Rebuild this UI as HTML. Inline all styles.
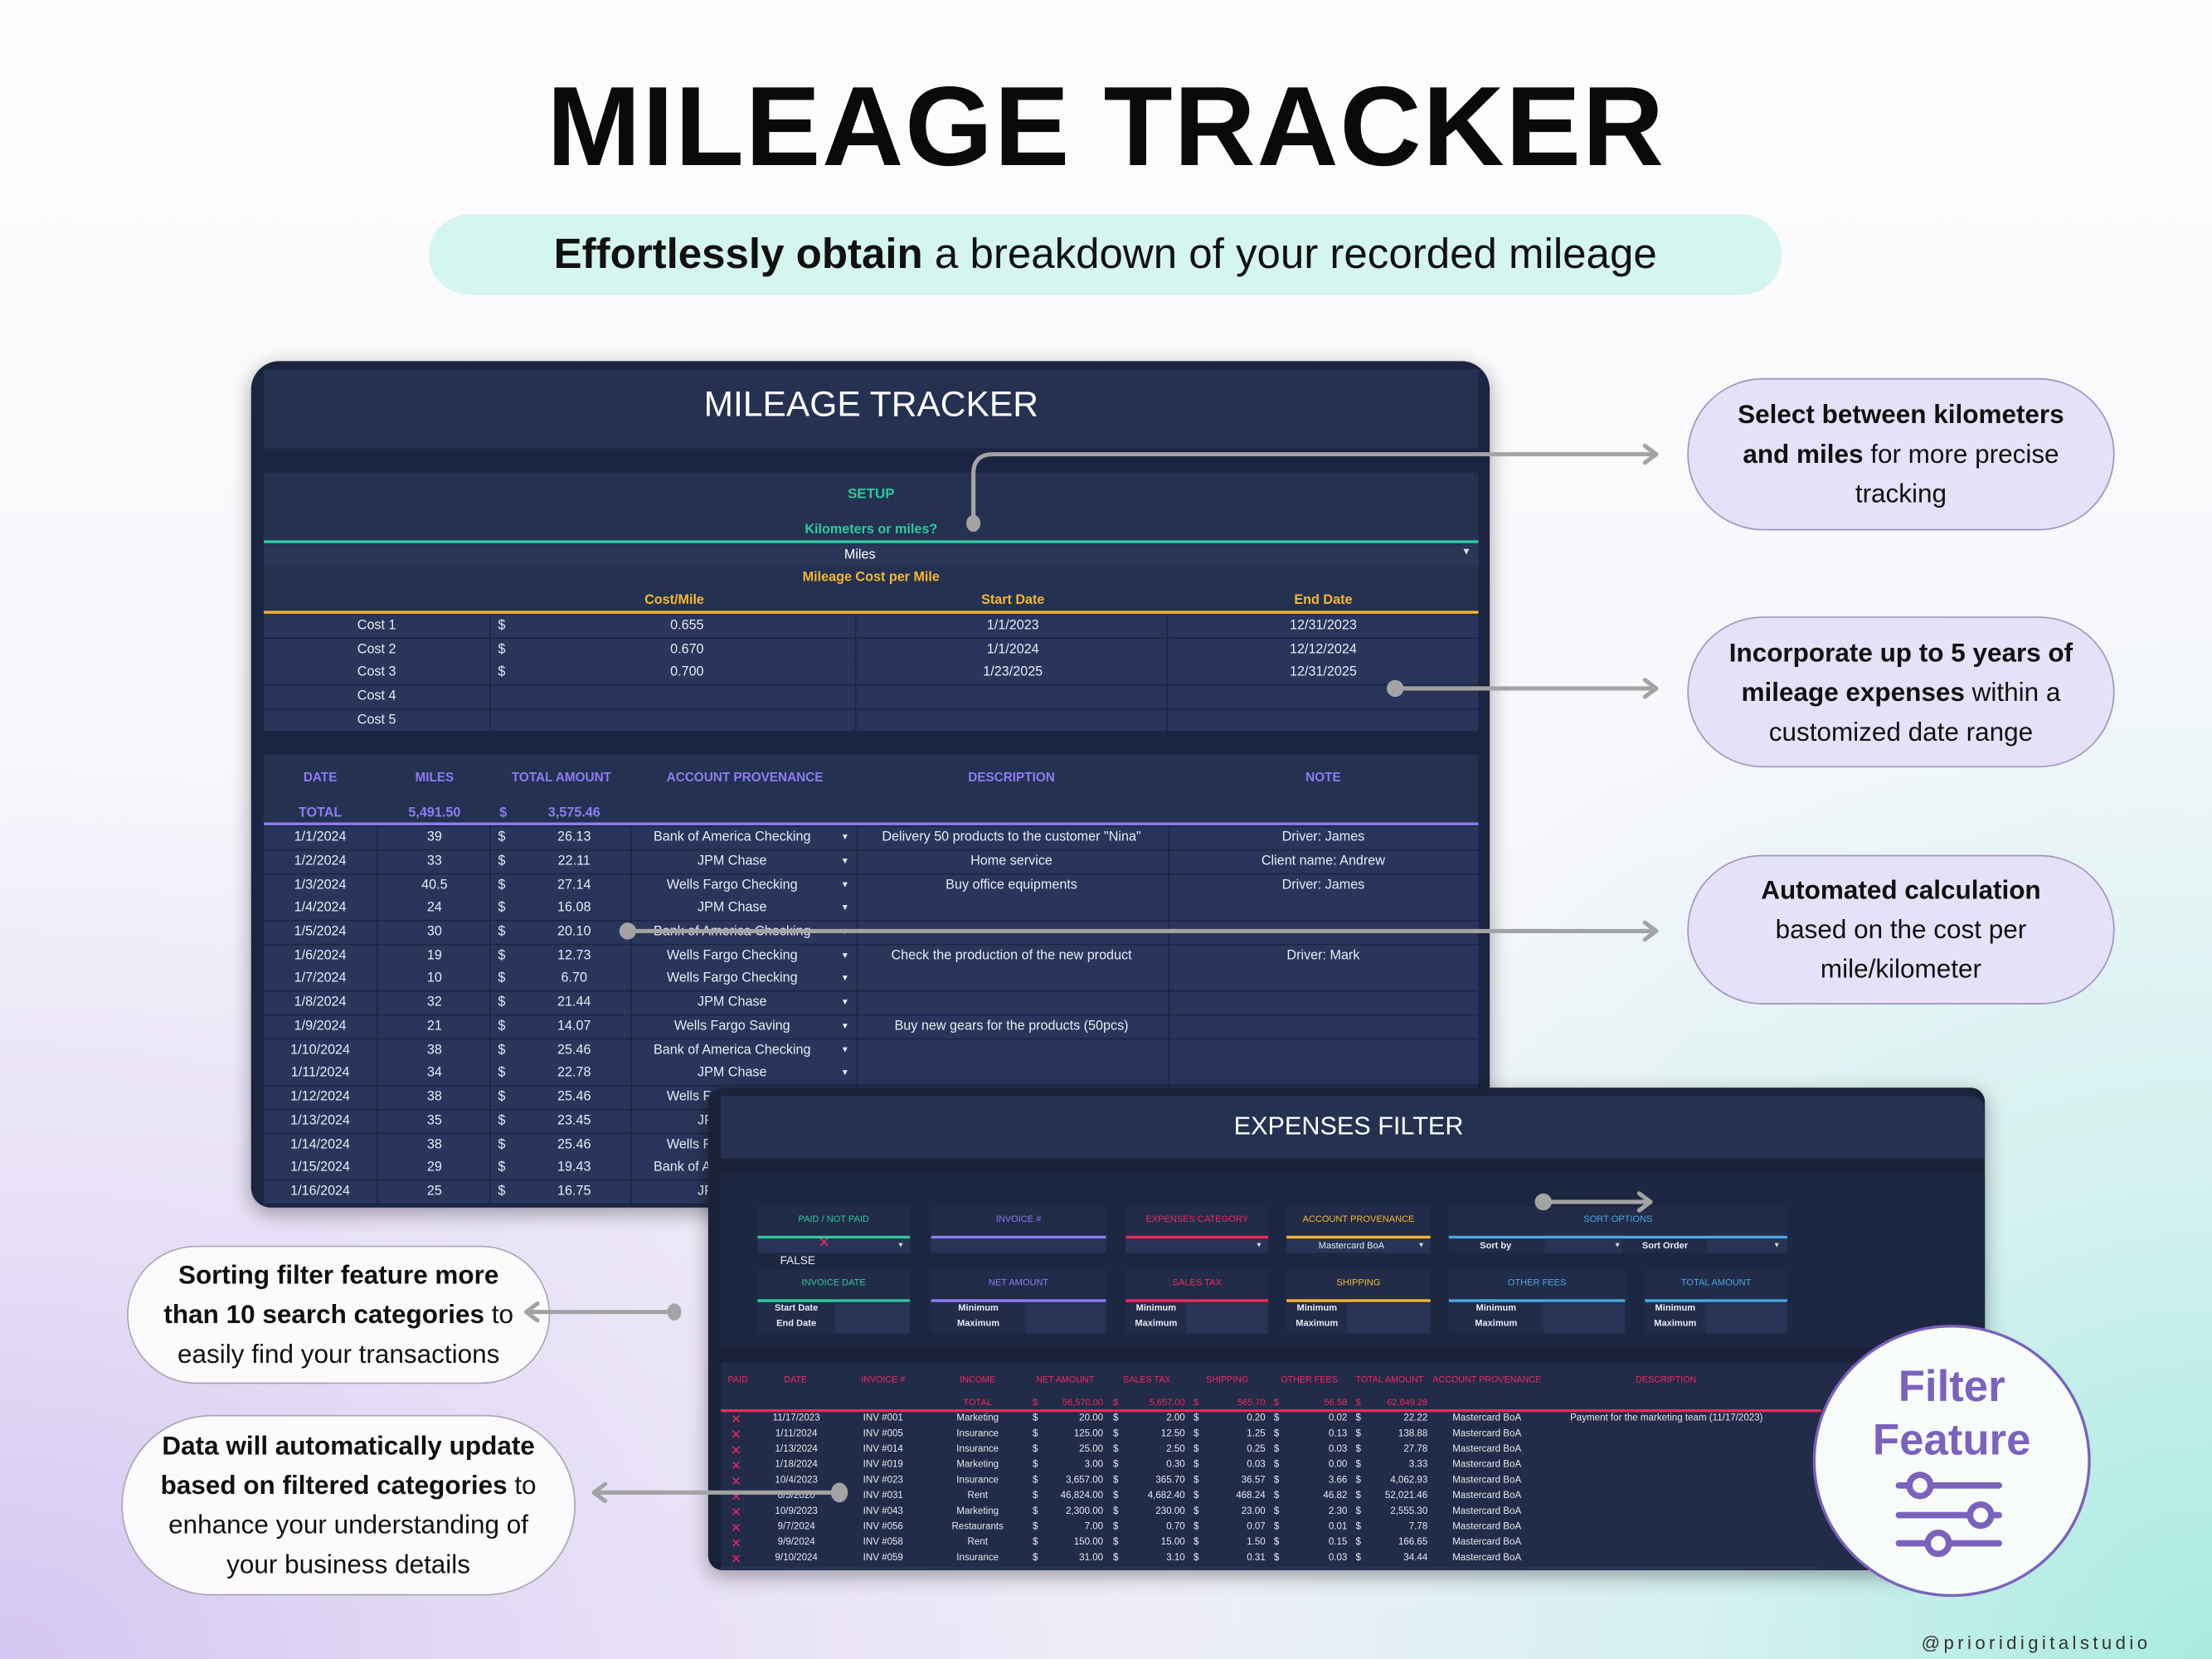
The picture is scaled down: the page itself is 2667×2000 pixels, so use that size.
<!DOCTYPE html>
<html><head><meta charset="utf-8"><style>
html,body{margin:0;padding:0;}
body{width:2667px;height:2000px;overflow:hidden;position:relative;
background:#f6f5fb;}
#bg{position:absolute;left:0;top:0;width:2667px;height:2000px;
background:
radial-gradient(ellipse 1500px 1100px at 0% 100%, #d4c6f2 0%, rgba(220,208,244,0.6) 45%, rgba(246,245,251,0) 100%),
radial-gradient(ellipse 1300px 1300px at 100% 100%, #a8ebdf 0%, rgba(190,240,232,0.6) 45%, rgba(246,245,251,0) 100%),
linear-gradient(#fdfdfe,#f1eff8);}
#s{position:absolute;left:0;top:0;width:1568px;height:1176px;transform:scale(1.70089,1.70068);transform-origin:0 0;font-family:"Liberation Sans",sans-serif;}
.a{position:absolute;}
.n{font-family:"Liberation Sans Narrow","Liberation Sans",sans-serif;}
.t{position:absolute;white-space:nowrap;}
.ctr{text-align:center;}
.rt{text-align:right;}
.mr{position:absolute;left:187px;width:861px;height:16px;background:#29355a;border-bottom:0.8px solid #1d2642;}
.mr span{position:absolute;top:0;line-height:16px;color:#e8ebf5;font-size:9.5px;white-space:nowrap;font-family:"Liberation Sans Narrow","Liberation Sans",sans-serif;}
.vl{position:absolute;width:1px;background:#1e2843;}
.er{position:absolute;left:511px;width:780px;height:10.5px;background:#222c48;border-bottom:0.7px solid #2d3856;}
.er span{position:absolute;top:0;line-height:10.5px;color:#e6e9f3;font-size:6.8px;white-space:nowrap;font-family:"Liberation Sans Narrow","Liberation Sans",sans-serif;}
.pill{position:absolute;border-radius:60px;display:flex;align-items:center;justify-content:center;text-align:center;color:#111;font-size:18.5px;line-height:28px;}
.fb{position:absolute;background:#222c49;}
.fb .h{position:absolute;left:0;right:0;top:6px;text-align:center;font-size:6.5px;font-family:"Liberation Sans Narrow","Liberation Sans",sans-serif;}
.fb .ln{position:absolute;left:0;right:0;top:21px;height:2px;}
.fb .lb{position:absolute;left:0;width:55px;text-align:center;font-size:6.5px;color:#e8ebf5;font-weight:bold;font-family:"Liberation Sans Narrow","Liberation Sans",sans-serif;}
.fb .in{position:absolute;top:23px;bottom:0;background:#283355;}
</style></head><body>
<div id="bg"></div>
<div id="s">
<div class="t ctr" style="left:0;width:1568px;top:45px;font-size:80px;font-weight:900;letter-spacing:1px;color:#0a0a0a;line-height:90px;">MILEAGE TRACKER</div>
<div class="a" style="left:304px;top:152px;width:959px;height:57px;border-radius:29px;background:#d5f5ef;"></div>
<div class="t ctr" style="left:304px;width:959px;top:163px;font-size:30px;line-height:36px;color:#111;"><b>Effortlessly obtain</b> a breakdown of your recorded mileage</div>

<div class="a" style="left:178px;top:256px;width:878px;height:600px;background:#1b2440;border-radius:20px 20px 14px 14px;box-shadow:0 4px 14px rgba(0,0,0,0.35);overflow:hidden;">
</div>
<div class="a" style="left:187px;top:262px;width:861px;height:56px;background:#243150;"></div>
<div class="t ctr n" style="left:187px;width:861px;top:270px;font-size:25px;line-height:34px;color:#fff;">MILEAGE TRACKER</div>
<div class="a" style="left:187px;top:335px;width:861px;height:183px;background:#243150;"></div>
<div class="t ctr n" style="left:187px;width:861px;top:345px;font-size:10px;font-weight:bold;color:#2fc99c;">SETUP</div>
<div class="t ctr n" style="left:187px;width:861px;top:370px;font-size:9.5px;font-weight:bold;color:#2fc99c;">Kilometers or miles?</div>
<div class="a" style="left:187px;top:383px;width:861px;height:2px;background:#2fc99c;"></div>
<div class="a" style="left:187px;top:386px;width:861px;height:15px;background:#2a3658;"></div>
<div class="t ctr n" style="left:187px;width:845px;top:388px;font-size:9.5px;color:#fff;">Miles</div>
<div class="t" style="left:1036px;top:388px;font-size:7px;color:#ddd;">▼</div>
<div class="t ctr n" style="left:187px;width:861px;top:404px;font-size:9.5px;font-weight:bold;color:#f5b731;">Mileage Cost per Mile</div>
<div class="t ctr n" style="left:428px;width:100px;top:420px;font-size:9.5px;font-weight:bold;color:#f5b731;">Cost/Mile</div>
<div class="t ctr n" style="left:668px;width:100px;top:420px;font-size:9.5px;font-weight:bold;color:#f5b731;">Start Date</div>
<div class="t ctr n" style="left:888px;width:100px;top:420px;font-size:9.5px;font-weight:bold;color:#f5b731;">End Date</div>
<div class="a" style="left:187px;top:433px;width:861px;height:2px;background:#f5b731;"></div>
<div class="mr" style="top:436px"><span style="left:40px;width:80px;text-align:center;">Cost 1</span><span style="left:166px">$</span><span style="left:260px;width:80px;text-align:center;">0.655</span><span style="left:481px;width:100px;text-align:center;">1/1/2023</span><span style="left:701px;width:100px;text-align:center;">12/31/2023</span></div>
<div class="mr" style="top:453px"><span style="left:40px;width:80px;text-align:center;">Cost 2</span><span style="left:166px">$</span><span style="left:260px;width:80px;text-align:center;">0.670</span><span style="left:481px;width:100px;text-align:center;">1/1/2024</span><span style="left:701px;width:100px;text-align:center;">12/12/2024</span></div>
<div class="mr" style="top:469px"><span style="left:40px;width:80px;text-align:center;">Cost 3</span><span style="left:166px">$</span><span style="left:260px;width:80px;text-align:center;">0.700</span><span style="left:481px;width:100px;text-align:center;">1/23/2025</span><span style="left:701px;width:100px;text-align:center;">12/31/2025</span></div>
<div class="mr" style="top:486px"><span style="left:40px;width:80px;text-align:center;">Cost 4</span></div>
<div class="mr" style="top:503px;height:15px;"><span style="left:40px;width:80px;text-align:center;">Cost 5</span></div>
<div class="vl" style="left:347px;top:436px;height:82px;"></div>
<div class="vl" style="left:606px;top:436px;height:82px;"></div>
<div class="vl" style="left:827px;top:436px;height:82px;"></div>

<div class="a" style="left:187px;top:535px;width:861px;height:50px;background:#243150;"></div>
<div class="t n" style="left:187px;top:546px;width:861px;height:14px;font-size:9px;font-weight:bold;color:#8d7cf2;">
<span class="t ctr" style="left:0;width:80px;">DATE</span><span class="t ctr" style="left:81px;width:80px;">MILES</span><span class="t ctr" style="left:161px;width:100px;">TOTAL AMOUNT</span><span class="t ctr" style="left:261px;width:160px;">ACCOUNT PROVENANCE</span><span class="t ctr" style="left:420px;width:220px;">DESCRIPTION</span><span class="t ctr" style="left:641px;width:220px;">NOTE</span></div>
<div class="t n" style="left:187px;top:571px;width:861px;font-size:9.5px;font-weight:bold;color:#8d7cf2;">
<span class="t ctr" style="left:0;width:80px;">TOTAL</span><span class="t ctr" style="left:81px;width:80px;">5,491.50</span><span class="t" style="left:167px;">$</span><span class="t ctr" style="left:190px;width:60px;">3,575.46</span></div>
<div class="a" style="left:187px;top:583px;width:861px;height:2px;background:#8d7cf2;"></div>

<div class="mr" style="top:586px"><span style="left:0;width:80px;text-align:center;">1/1/2024</span><span style="left:81px;width:80px;text-align:center;">39</span><span style="left:166px">$</span><span style="left:190px;width:60px;text-align:center;">26.13</span><span style="left:253px;width:158px;text-align:center;">Bank of America Checking</span><span style="left:409px;font-size:6px;">▼</span><span style="left:420px;width:220px;text-align:center;">Delivery 50 products to the customer "Nina"</span><span style="left:641px;width:220px;text-align:center;">Driver: James</span></div>
<div class="mr" style="top:603px"><span style="left:0;width:80px;text-align:center;">1/2/2024</span><span style="left:81px;width:80px;text-align:center;">33</span><span style="left:166px">$</span><span style="left:190px;width:60px;text-align:center;">22.11</span><span style="left:253px;width:158px;text-align:center;">JPM Chase</span><span style="left:409px;font-size:6px;">▼</span><span style="left:420px;width:220px;text-align:center;">Home service</span><span style="left:641px;width:220px;text-align:center;">Client name: Andrew</span></div>
<div class="mr" style="top:620px"><span style="left:0;width:80px;text-align:center;">1/3/2024</span><span style="left:81px;width:80px;text-align:center;">40.5</span><span style="left:166px">$</span><span style="left:190px;width:60px;text-align:center;">27.14</span><span style="left:253px;width:158px;text-align:center;">Wells Fargo Checking</span><span style="left:409px;font-size:6px;">▼</span><span style="left:420px;width:220px;text-align:center;">Buy office equipments</span><span style="left:641px;width:220px;text-align:center;">Driver: James</span></div>
<div class="mr" style="top:636px"><span style="left:0;width:80px;text-align:center;">1/4/2024</span><span style="left:81px;width:80px;text-align:center;">24</span><span style="left:166px">$</span><span style="left:190px;width:60px;text-align:center;">16.08</span><span style="left:253px;width:158px;text-align:center;">JPM Chase</span><span style="left:409px;font-size:6px;">▼</span></div>
<div class="mr" style="top:653px"><span style="left:0;width:80px;text-align:center;">1/5/2024</span><span style="left:81px;width:80px;text-align:center;">30</span><span style="left:166px">$</span><span style="left:190px;width:60px;text-align:center;">20.10</span><span style="left:253px;width:158px;text-align:center;">Bank of America Checking</span><span style="left:409px;font-size:6px;">▼</span></div>
<div class="mr" style="top:670px"><span style="left:0;width:80px;text-align:center;">1/6/2024</span><span style="left:81px;width:80px;text-align:center;">19</span><span style="left:166px">$</span><span style="left:190px;width:60px;text-align:center;">12.73</span><span style="left:253px;width:158px;text-align:center;">Wells Fargo Checking</span><span style="left:409px;font-size:6px;">▼</span><span style="left:420px;width:220px;text-align:center;">Check the production of the new product</span><span style="left:641px;width:220px;text-align:center;">Driver: Mark</span></div>
<div class="mr" style="top:686px"><span style="left:0;width:80px;text-align:center;">1/7/2024</span><span style="left:81px;width:80px;text-align:center;">10</span><span style="left:166px">$</span><span style="left:190px;width:60px;text-align:center;">6.70</span><span style="left:253px;width:158px;text-align:center;">Wells Fargo Checking</span><span style="left:409px;font-size:6px;">▼</span></div>
<div class="mr" style="top:703px"><span style="left:0;width:80px;text-align:center;">1/8/2024</span><span style="left:81px;width:80px;text-align:center;">32</span><span style="left:166px">$</span><span style="left:190px;width:60px;text-align:center;">21.44</span><span style="left:253px;width:158px;text-align:center;">JPM Chase</span><span style="left:409px;font-size:6px;">▼</span></div>
<div class="mr" style="top:720px"><span style="left:0;width:80px;text-align:center;">1/9/2024</span><span style="left:81px;width:80px;text-align:center;">21</span><span style="left:166px">$</span><span style="left:190px;width:60px;text-align:center;">14.07</span><span style="left:253px;width:158px;text-align:center;">Wells Fargo Saving</span><span style="left:409px;font-size:6px;">▼</span><span style="left:420px;width:220px;text-align:center;">Buy new gears for the products (50pcs)</span></div>
<div class="mr" style="top:737px"><span style="left:0;width:80px;text-align:center;">1/10/2024</span><span style="left:81px;width:80px;text-align:center;">38</span><span style="left:166px">$</span><span style="left:190px;width:60px;text-align:center;">25.46</span><span style="left:253px;width:158px;text-align:center;">Bank of America Checking</span><span style="left:409px;font-size:6px;">▼</span></div>
<div class="mr" style="top:753px"><span style="left:0;width:80px;text-align:center;">1/11/2024</span><span style="left:81px;width:80px;text-align:center;">34</span><span style="left:166px">$</span><span style="left:190px;width:60px;text-align:center;">22.78</span><span style="left:253px;width:158px;text-align:center;">JPM Chase</span><span style="left:409px;font-size:6px;">▼</span></div>
<div class="mr" style="top:770px"><span style="left:0;width:80px;text-align:center;">1/12/2024</span><span style="left:81px;width:80px;text-align:center;">38</span><span style="left:166px">$</span><span style="left:190px;width:60px;text-align:center;">25.46</span><span style="left:253px;width:158px;text-align:center;">Wells Fargo Checking</span></div>
<div class="mr" style="top:787px"><span style="left:0;width:80px;text-align:center;">1/13/2024</span><span style="left:81px;width:80px;text-align:center;">35</span><span style="left:166px">$</span><span style="left:190px;width:60px;text-align:center;">23.45</span><span style="left:253px;width:158px;text-align:center;">JPM Chase</span></div>
<div class="mr" style="top:804px"><span style="left:0;width:80px;text-align:center;">1/14/2024</span><span style="left:81px;width:80px;text-align:center;">38</span><span style="left:166px">$</span><span style="left:190px;width:60px;text-align:center;">25.46</span><span style="left:253px;width:158px;text-align:center;">Wells Fargo Checking</span></div>
<div class="mr" style="top:820px"><span style="left:0;width:80px;text-align:center;">1/15/2024</span><span style="left:81px;width:80px;text-align:center;">29</span><span style="left:166px">$</span><span style="left:190px;width:60px;text-align:center;">19.43</span><span style="left:253px;width:158px;text-align:center;">Bank of America Checking</span></div>
<div class="mr" style="top:837px;height:16px;"><span style="left:0;width:80px;text-align:center;">1/16/2024</span><span style="left:81px;width:80px;text-align:center;">25</span><span style="left:166px">$</span><span style="left:190px;width:60px;text-align:center;">16.75</span><span style="left:253px;width:158px;text-align:center;">JPM Chase</span></div>
<div class="vl" style="left:267px;top:586px;height:268px;"></div>
<div class="vl" style="left:347px;top:586px;height:268px;"></div>
<div class="vl" style="left:447px;top:586px;height:268px;"></div>
<div class="vl" style="left:607px;top:586px;height:268px;"></div>
<div class="vl" style="left:828px;top:586px;height:268px;"></div>

<div class="a" style="left:502px;top:771px;width:905px;height:342px;background:#1a2239;border-radius:10px;box-shadow:0 4px 14px rgba(0,0,0,0.35);"></div>
<div class="a" style="left:511px;top:777px;width:896px;height:44px;background:#243150;border-radius:0 10px 0 0;"></div>
<div class="t ctr n" style="left:511px;width:890px;top:786px;font-size:18px;line-height:24px;color:#fff;">EXPENSES FILTER</div>
<div class="a" style="left:511px;top:832px;width:896px;height:123px;background:#1e2741;"></div>

<div class="fb" style="left:537px;top:855px;width:108px;height:33px;"><div class="h" style="color:#2fc99c">PAID / NOT PAID</div><div class="ln" style="background:#2fc99c"></div><div class="in" style="left:0;right:0;"></div><div class="t" style="left:43px;top:21px;font-size:10px;color:#ee2a5c;">✕</div><div class="t" style="left:99px;top:25px;font-size:5px;color:#ddd;">▼</div></div>
<div class="t n" style="left:553px;top:889px;font-size:8px;color:#e8ebf5;">FALSE</div>
<div class="fb" style="left:660px;top:855px;width:124px;height:33px;"><div class="h" style="color:#8d7cf2">INVOICE #</div><div class="ln" style="background:#8d7cf2"></div><div class="in" style="left:0;right:0;"></div></div>
<div class="fb" style="left:798px;top:855px;width:101px;height:33px;"><div class="h" style="color:#ee2a5c">EXPENSES CATEGORY</div><div class="ln" style="background:#ee2a5c"></div><div class="in" style="left:0;right:0;"></div><div class="t" style="left:92px;top:25px;font-size:5px;color:#ddd;">▼</div></div>
<div class="fb" style="left:912px;top:855px;width:102px;height:33px;"><div class="h" style="color:#f5b731">ACCOUNT PROVENANCE</div><div class="ln" style="background:#f5b731"></div><div class="in" style="left:0;right:0;"></div><div class="t n" style="left:0;width:92px;text-align:center;top:25px;font-size:6.5px;color:#e8ebf5;">Mastercard BoA</div><div class="t" style="left:93px;top:25px;font-size:5px;color:#ddd;">▼</div></div>
<div class="fb" style="left:1027px;top:855px;width:240px;height:33px;"><div class="h" style="color:#4aa8e0">SORT OPTIONS</div><div class="ln" style="background:#4aa8e0"></div><div class="in" style="left:0;right:0;background:#222c49"></div><div class="in" style="left:68px;width:55px;"></div><div class="in" style="left:183px;width:57px;"></div><div class="t n" style="left:22px;top:25px;font-size:6.5px;color:#e8ebf5;font-weight:bold;">Sort by</div><div class="t" style="left:117px;top:25px;font-size:5px;color:#ddd;">▼</div><div class="t n" style="left:137px;top:25px;font-size:6.5px;color:#e8ebf5;font-weight:bold;">Sort Order</div><div class="t" style="left:230px;top:25px;font-size:5px;color:#ddd;">▼</div></div>

<div class="fb" style="left:537px;top:900px;width:108px;height:45px;"><div class="h" style="color:#2fc99c">INVOICE DATE</div><div class="ln" style="background:#2fc99c"></div><div class="in" style="left:55px;right:0;"></div><div class="lb" style="top:24px">Start Date</div><div class="lb" style="top:35px">End Date</div></div>
<div class="fb" style="left:660px;top:900px;width:124px;height:45px;"><div class="h" style="color:#8d7cf2">NET AMOUNT</div><div class="ln" style="background:#8d7cf2"></div><div class="in" style="left:67px;right:0;"></div><div class="lb" style="top:24px;width:67px">Minimum</div><div class="lb" style="top:35px;width:67px">Maximum</div></div>
<div class="fb" style="left:798px;top:900px;width:101px;height:45px;"><div class="h" style="color:#ee2a5c">SALES TAX</div><div class="ln" style="background:#ee2a5c"></div><div class="in" style="left:43px;right:0;"></div><div class="lb" style="top:24px;width:43px">Minimum</div><div class="lb" style="top:35px;width:43px">Maximum</div></div>
<div class="fb" style="left:912px;top:900px;width:102px;height:45px;"><div class="h" style="color:#f5b731">SHIPPING</div><div class="ln" style="background:#f5b731"></div><div class="in" style="left:43px;right:0;"></div><div class="lb" style="top:24px;width:43px">Minimum</div><div class="lb" style="top:35px;width:43px">Maximum</div></div>
<div class="fb" style="left:1027px;top:900px;width:125px;height:45px;"><div class="h" style="color:#4aa8e0">OTHER FEES</div><div class="ln" style="background:#4aa8e0"></div><div class="in" style="left:67px;right:0;"></div><div class="lb" style="top:24px;width:67px">Minimum</div><div class="lb" style="top:35px;width:67px">Maximum</div></div>
<div class="fb" style="left:1166px;top:900px;width:101px;height:45px;"><div class="h" style="color:#4aa8e0">TOTAL AMOUNT</div><div class="ln" style="background:#4aa8e0"></div><div class="in" style="left:43px;right:0;"></div><div class="lb" style="top:24px;width:43px">Minimum</div><div class="lb" style="top:35px;width:43px">Maximum</div></div>

<div class="a" style="left:511px;top:966px;width:896px;height:147px;background:#222c48;border-radius:0 0 10px 0;"></div>
<div class="t n" style="left:511px;top:975px;width:780px;height:10px;font-size:6.3px;color:#ee2a5c;">
<span class="t ctr" style="left:0;width:24px;">PAID</span><span class="t ctr" style="left:28px;width:50px;">DATE</span><span class="t ctr" style="left:90px;width:50px;">INVOICE #</span><span class="t ctr" style="left:157px;width:50px;">INCOME</span><span class="t ctr" style="left:214px;width:60px;">NET AMOUNT</span><span class="t ctr" style="left:272px;width:60px;">SALES TAX</span><span class="t ctr" style="left:329px;width:60px;">SHIPPING</span><span class="t ctr" style="left:387px;width:60px;">OTHER FEES</span><span class="t ctr" style="left:444px;width:60px;">TOTAL AMOUNT</span><span class="t ctr" style="left:498px;width:90px;">ACCOUNT PROVENANCE</span><span class="t ctr" style="left:620px;width:100px;">DESCRIPTION</span></div>
<div class="t n" style="left:511px;top:991px;width:780px;font-size:6.5px;color:#ee2a5c;">
<span class="t ctr" style="left:157px;width:50px;">TOTAL</span><span class="t" style="left:221px">$</span><span class="t rt" style="left:225px;width:46px;">56,570.00</span><span class="t" style="left:278px">$</span><span class="t rt" style="left:283px;width:46px;">5,657.00</span><span class="t" style="left:335px">$</span><span class="t rt" style="left:340px;width:46px;">565.70</span><span class="t" style="left:392px">$</span><span class="t rt" style="left:398px;width:46px;">56.58</span><span class="t" style="left:450px">$</span><span class="t rt" style="left:455px;width:46px;">62,849.28</span></div>
<div class="a" style="left:511px;top:999px;width:780px;height:1.5px;background:#ee2a5c;"></div>

<div class="er" style="top:1001px"><span style="left:7px;color:#ee2a5c;font-size:9px;">✕</span><span style="left:26px;width:55px;text-align:center;">11/17/2023</span><span style="left:84px;width:62px;text-align:center;">INV #001</span><span style="left:152px;width:60px;text-align:center;">Marketing</span><span style="left:221px">$</span><span style="left:225px;width:46px;text-align:right;">20.00</span><span style="left:278px">$</span><span style="left:283px;width:46px;text-align:right;">2.00</span><span style="left:335px">$</span><span style="left:340px;width:46px;text-align:right;">0.20</span><span style="left:392px">$</span><span style="left:398px;width:46px;text-align:right;">0.02</span><span style="left:450px">$</span><span style="left:455px;width:46px;text-align:right;">22.22</span><span style="left:503px;width:80px;text-align:center;">Mastercard BoA</span><span style="left:602px">Payment for the marketing team (11/17/2023)</span></div>
<div class="er" style="top:1012px"><span style="left:7px;color:#ee2a5c;font-size:9px;">✕</span><span style="left:26px;width:55px;text-align:center;">1/11/2024</span><span style="left:84px;width:62px;text-align:center;">INV #005</span><span style="left:152px;width:60px;text-align:center;">Insurance</span><span style="left:221px">$</span><span style="left:225px;width:46px;text-align:right;">125.00</span><span style="left:278px">$</span><span style="left:283px;width:46px;text-align:right;">12.50</span><span style="left:335px">$</span><span style="left:340px;width:46px;text-align:right;">1.25</span><span style="left:392px">$</span><span style="left:398px;width:46px;text-align:right;">0.13</span><span style="left:450px">$</span><span style="left:455px;width:46px;text-align:right;">138.88</span><span style="left:503px;width:80px;text-align:center;">Mastercard BoA</span></div>
<div class="er" style="top:1023px"><span style="left:7px;color:#ee2a5c;font-size:9px;">✕</span><span style="left:26px;width:55px;text-align:center;">1/13/2024</span><span style="left:84px;width:62px;text-align:center;">INV #014</span><span style="left:152px;width:60px;text-align:center;">Insurance</span><span style="left:221px">$</span><span style="left:225px;width:46px;text-align:right;">25.00</span><span style="left:278px">$</span><span style="left:283px;width:46px;text-align:right;">2.50</span><span style="left:335px">$</span><span style="left:340px;width:46px;text-align:right;">0.25</span><span style="left:392px">$</span><span style="left:398px;width:46px;text-align:right;">0.03</span><span style="left:450px">$</span><span style="left:455px;width:46px;text-align:right;">27.78</span><span style="left:503px;width:80px;text-align:center;">Mastercard BoA</span></div>
<div class="er" style="top:1034px"><span style="left:7px;color:#ee2a5c;font-size:9px;">✕</span><span style="left:26px;width:55px;text-align:center;">1/18/2024</span><span style="left:84px;width:62px;text-align:center;">INV #019</span><span style="left:152px;width:60px;text-align:center;">Marketing</span><span style="left:221px">$</span><span style="left:225px;width:46px;text-align:right;">3.00</span><span style="left:278px">$</span><span style="left:283px;width:46px;text-align:right;">0.30</span><span style="left:335px">$</span><span style="left:340px;width:46px;text-align:right;">0.03</span><span style="left:392px">$</span><span style="left:398px;width:46px;text-align:right;">0.00</span><span style="left:450px">$</span><span style="left:455px;width:46px;text-align:right;">3.33</span><span style="left:503px;width:80px;text-align:center;">Mastercard BoA</span></div>
<div class="er" style="top:1045px"><span style="left:7px;color:#ee2a5c;font-size:9px;">✕</span><span style="left:26px;width:55px;text-align:center;">10/4/2023</span><span style="left:84px;width:62px;text-align:center;">INV #023</span><span style="left:152px;width:60px;text-align:center;">Insurance</span><span style="left:221px">$</span><span style="left:225px;width:46px;text-align:right;">3,657.00</span><span style="left:278px">$</span><span style="left:283px;width:46px;text-align:right;">365.70</span><span style="left:335px">$</span><span style="left:340px;width:46px;text-align:right;">36.57</span><span style="left:392px">$</span><span style="left:398px;width:46px;text-align:right;">3.66</span><span style="left:450px">$</span><span style="left:455px;width:46px;text-align:right;">4,062.93</span><span style="left:503px;width:80px;text-align:center;">Mastercard BoA</span></div>
<div class="er" style="top:1056px"><span style="left:7px;color:#ee2a5c;font-size:9px;">✕</span><span style="left:26px;width:55px;text-align:center;">6/5/2020</span><span style="left:84px;width:62px;text-align:center;">INV #031</span><span style="left:152px;width:60px;text-align:center;">Rent</span><span style="left:221px">$</span><span style="left:225px;width:46px;text-align:right;">46,824.00</span><span style="left:278px">$</span><span style="left:283px;width:46px;text-align:right;">4,682.40</span><span style="left:335px">$</span><span style="left:340px;width:46px;text-align:right;">468.24</span><span style="left:392px">$</span><span style="left:398px;width:46px;text-align:right;">46.82</span><span style="left:450px">$</span><span style="left:455px;width:46px;text-align:right;">52,021.46</span><span style="left:503px;width:80px;text-align:center;">Mastercard BoA</span></div>
<div class="er" style="top:1067px"><span style="left:7px;color:#ee2a5c;font-size:9px;">✕</span><span style="left:26px;width:55px;text-align:center;">10/9/2023</span><span style="left:84px;width:62px;text-align:center;">INV #043</span><span style="left:152px;width:60px;text-align:center;">Marketing</span><span style="left:221px">$</span><span style="left:225px;width:46px;text-align:right;">2,300.00</span><span style="left:278px">$</span><span style="left:283px;width:46px;text-align:right;">230.00</span><span style="left:335px">$</span><span style="left:340px;width:46px;text-align:right;">23.00</span><span style="left:392px">$</span><span style="left:398px;width:46px;text-align:right;">2.30</span><span style="left:450px">$</span><span style="left:455px;width:46px;text-align:right;">2,555.30</span><span style="left:503px;width:80px;text-align:center;">Mastercard BoA</span></div>
<div class="er" style="top:1078px"><span style="left:7px;color:#ee2a5c;font-size:9px;">✕</span><span style="left:26px;width:55px;text-align:center;">9/7/2024</span><span style="left:84px;width:62px;text-align:center;">INV #056</span><span style="left:152px;width:60px;text-align:center;">Restaurants</span><span style="left:221px">$</span><span style="left:225px;width:46px;text-align:right;">7.00</span><span style="left:278px">$</span><span style="left:283px;width:46px;text-align:right;">0.70</span><span style="left:335px">$</span><span style="left:340px;width:46px;text-align:right;">0.07</span><span style="left:392px">$</span><span style="left:398px;width:46px;text-align:right;">0.01</span><span style="left:450px">$</span><span style="left:455px;width:46px;text-align:right;">7.78</span><span style="left:503px;width:80px;text-align:center;">Mastercard BoA</span></div>
<div class="er" style="top:1089px"><span style="left:7px;color:#ee2a5c;font-size:9px;">✕</span><span style="left:26px;width:55px;text-align:center;">9/9/2024</span><span style="left:84px;width:62px;text-align:center;">INV #058</span><span style="left:152px;width:60px;text-align:center;">Rent</span><span style="left:221px">$</span><span style="left:225px;width:46px;text-align:right;">150.00</span><span style="left:278px">$</span><span style="left:283px;width:46px;text-align:right;">15.00</span><span style="left:335px">$</span><span style="left:340px;width:46px;text-align:right;">1.50</span><span style="left:392px">$</span><span style="left:398px;width:46px;text-align:right;">0.15</span><span style="left:450px">$</span><span style="left:455px;width:46px;text-align:right;">166.65</span><span style="left:503px;width:80px;text-align:center;">Mastercard BoA</span></div>
<div class="er" style="top:1100px"><span style="left:7px;color:#ee2a5c;font-size:9px;">✕</span><span style="left:26px;width:55px;text-align:center;">9/10/2024</span><span style="left:84px;width:62px;text-align:center;">INV #059</span><span style="left:152px;width:60px;text-align:center;">Insurance</span><span style="left:221px">$</span><span style="left:225px;width:46px;text-align:right;">31.00</span><span style="left:278px">$</span><span style="left:283px;width:46px;text-align:right;">3.10</span><span style="left:335px">$</span><span style="left:340px;width:46px;text-align:right;">0.31</span><span style="left:392px">$</span><span style="left:398px;width:46px;text-align:right;">0.03</span><span style="left:450px">$</span><span style="left:455px;width:46px;text-align:right;">34.44</span><span style="left:503px;width:80px;text-align:center;">Mastercard BoA</span></div>

<div class="pill" style="left:1196px;top:268px;width:301px;height:106px;background:#e6e0f8;border:1.5px solid #9f95c0;">
<div><b>Select between kilometers<br>and miles</b> for more precise<br>tracking</div></div>
<div class="pill" style="left:1196px;top:437px;width:301px;height:105px;background:#e6e0f8;border:1.5px solid #9f95c0;">
<div><b>Incorporate up to 5 years of<br>mileage expenses</b> within a<br>customized date range</div></div>
<div class="pill" style="left:1196px;top:606px;width:301px;height:104px;background:#e6e0f8;border:1.5px solid #9f95c0;">
<div><b>Automated calculation</b><br>based on the cost per<br>mile/kilometer</div></div>
<div class="pill" style="left:90px;top:883px;width:298px;height:96px;background:#fbfbfd;border:1.5px solid #a8a8b4;">
<div><b>Sorting filter feature more<br>than 10 search categories</b> to<br>easily find your transactions</div></div>
<div class="pill" style="left:86px;top:1003px;width:320px;height:126px;background:#fbfbfd;border:1.5px solid #a8a8b4;border-radius:64px;">
<div><b>Data will automatically update<br>based on filtered categories</b> to<br>enhance your understanding of<br>your business details</div></div>

<div class="a" style="left:1285px;top:939px;width:193px;height:189px;border-radius:50%;background:#f7fbfa;border:2px solid #7a62bd;"></div>
<div class="t ctr" style="left:1285px;width:197px;top:964px;font-size:31px;line-height:38px;font-weight:bold;color:#7a62bd;">Filter<br>Feature</div>

<svg class="a" style="left:0;top:0" width="1568" height="1176" viewBox="0 0 1568 1176">
<g stroke="#7a62bd" stroke-width="4.5" stroke-linecap="round" fill="#f7fbfa">
<line x1="1346" y1="1053" x2="1417" y2="1053"/><line x1="1346" y1="1074" x2="1417" y2="1074"/><line x1="1346" y1="1094" x2="1417" y2="1094"/>
<circle cx="1361" cy="1053" r="7.5"/><circle cx="1404" cy="1074" r="7.5"/><circle cx="1374" cy="1094" r="7.5"/>
</g>
<g stroke="#a3a3a3" stroke-width="3" fill="none" stroke-linecap="round" stroke-linejoin="round">
<path d="M690 371 V336 Q690 322 704 322 H1174"/><path d="M1166 316 L1174 322 L1166 328"/>
<path d="M989 488 H1174"/><path d="M1166 482 L1174 488 L1166 494"/>
<path d="M445 660 H1174"/><path d="M1166 654 L1174 660 L1166 666"/>
<path d="M1094 852 H1170"/><path d="M1162 846 L1170 852 L1162 858"/>
<path d="M478 930 H373"/><path d="M381 924 L373 930 L381 936"/>
<path d="M595 1058 H421"/><path d="M429 1052 L421 1058 L429 1064"/>
</g>
<g fill="#a3a3a3">
<ellipse cx="690" cy="371" rx="5" ry="6"/><ellipse cx="989" cy="488" rx="6" ry="6"/><ellipse cx="445" cy="660" rx="6" ry="6"/>
<ellipse cx="1094" cy="852" rx="6" ry="6"/><ellipse cx="478" cy="930" rx="5" ry="6"/><ellipse cx="595" cy="1058" rx="6" ry="7"/>
</g>
</svg>

<div class="t" style="left:1362px;top:1157px;font-size:13px;letter-spacing:2.6px;color:#333;">@prioridigitalstudio</div>
</div>
</body></html>
